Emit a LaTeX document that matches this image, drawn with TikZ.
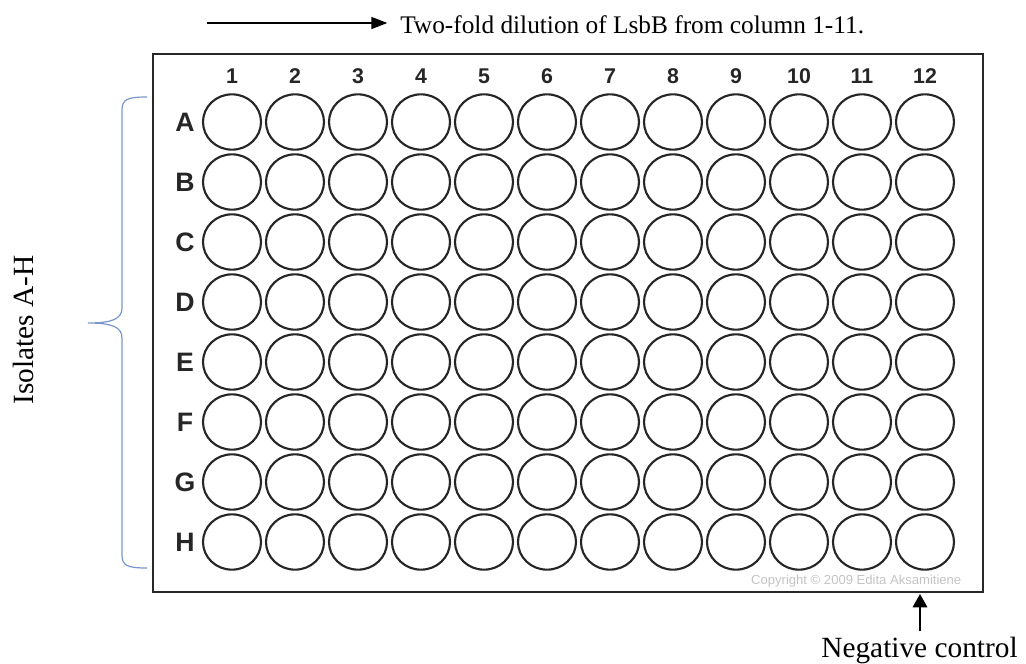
\documentclass[tikz,border=0pt]{standalone}
\usepackage{fontspec}
\setmainfont{Liberation Serif}
\newfontfamily\platefont{Liberation Sans}
\usetikzlibrary{shapes.geometric,arrows.meta,calc}
\definecolor{bracecolor}{RGB}{120,150,205}
\definecolor{plategray}{RGB}{40,40,40}
\definecolor{copygray}{RGB}{195,195,195}

\begin{document}
\begin{tikzpicture}[x=0.75pt,y=-0.75pt,
  well/.style={ellipse, draw=black!85, line width=1.6pt, minimum width=43.5pt, minimum height=41.5pt, inner sep=0pt},
  collab/.style={font=\platefont\bfseries\fontsize{16}{18}\selectfont, text=black!85},
  rowlab/.style={font=\platefont\bfseries\fontsize{20}{23}\selectfont, text=black!85},
  note/.style={font=\fontsize{19}{22}\selectfont, inner sep=0pt},
  bignote/.style={font=\fontsize{22}{26}\selectfont, inner sep=0pt},
]
  \useasboundingbox (0,0) rectangle (1026,664);
  \def\dx{63} % column pitch
  \def\dy{60} % row pitch

  % Plate outline
  \draw[plategray, line width=1.6pt] (153,54) rectangle (983,592);

  % Column numbers
  \foreach \c in {1,...,12}{
    \node[collab] (col-\c) at (232+\dx*\c-\dx, 76) {\c};
  }

  % Row letters and wells
  \foreach \r [count=\i from 0] in {A,B,C,D,E,F,G,H}{
    \node[rowlab] (row-\r) at (185, 122+\dy*\i) {\r};
    \foreach \c in {1,...,12}{
      \node[well] (w-\r-\c) at (232+\dx*\c-\dx, 122+\dy*\i) {};
    }
  }

  % Copyright line
  \node[font=\platefont\fontsize{9.8}{11}\selectfont, text=copygray, anchor=east] (copy) at (966,581) {Copyright \textcopyright{} 2009 Edita Aksamitiene};

  % Dilution arrow
  \node[note, anchor=base west] (dilution) at (400,33) {Two-fold dilution of LsbB from column 1-11.};
  \coordinate (dilstart) at (207,23);
  \draw[line width=1pt, -{Triangle[length=12pt, width=9pt]}, shorten >=9.5pt] (dilstart) -- (dilstart -| dilution.west);

  % Negative control
  \node[bignote, anchor=base] (negctrl) at (919.5,657) {Negative control};
  \coordinate (ncfoot) at (920,594);
  \draw[line width=0.9pt, -{Triangle[length=10pt, width=11pt]}, shorten <=4pt] (negctrl.north -| ncfoot) -- (ncfoot);

  % Brace over rows A-H
  \coordinate (btop) at (147,97);
  \coordinate (bbot) at (147,568);
  \coordinate (btip) at (88,323);
  \draw[bracecolor, line width=0.9pt]
    (btop) .. controls (128,97) and (122,99) .. (122,110) -- (122,308)
    .. controls (122,319) and (112,323) .. (btip)
    .. controls (112,323) and (122,327) .. (122,338) -- (122,555)
    .. controls (122,566) and (128,568) .. (bbot);
  \node[bignote, rotate=90, anchor=base] (isolates) at (33,330) {Isolates A-H};
\end{tikzpicture}
\end{document}
